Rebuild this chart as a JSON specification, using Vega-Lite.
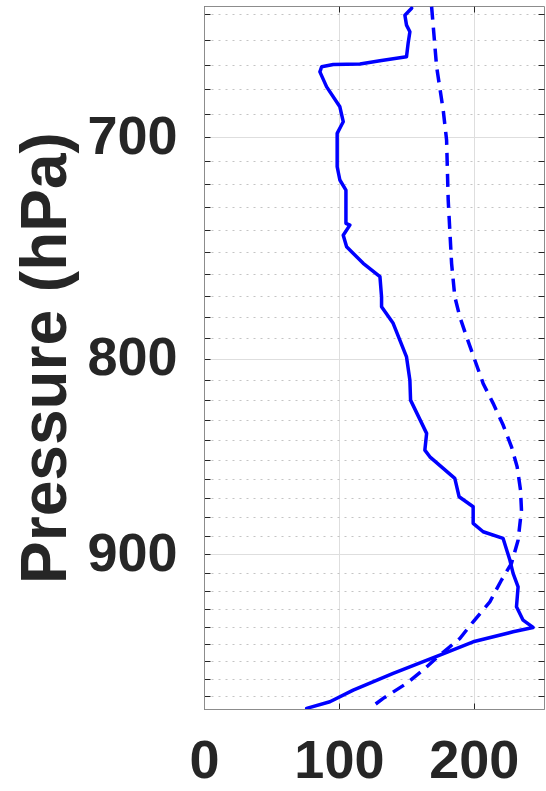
{
  "$schema": "https://vega.github.io/schema/vega-lite/v6.json",
  "width": 340,
  "height": 703,
  "autosize": "none",
  "padding": {"left": 204, "top": 6, "right": 2, "bottom": 82},
  "background": "white",
  "config": {
    "font": "Liberation Sans",
    "view": {"stroke": "#8c8c8c", "strokeWidth": 1}
  },
  "datasets": {
    "profiles": [
      {"profile": "observed", "p": 647.6, "value": 153.9},
      {"profile": "observed", "p": 650.3, "value": 148.9},
      {"profile": "observed", "p": 654.2, "value": 150.1},
      {"profile": "observed", "p": 656.8, "value": 152.6},
      {"profile": "observed", "p": 661.4, "value": 151.3},
      {"profile": "observed", "p": 666.8, "value": 150.1},
      {"profile": "observed", "p": 668.4, "value": 130.4},
      {"profile": "observed", "p": 669.7, "value": 115.6},
      {"profile": "observed", "p": 669.9, "value": 95.8},
      {"profile": "observed", "p": 670.8, "value": 87.2},
      {"profile": "observed", "p": 672.9, "value": 85.9},
      {"profile": "observed", "p": 679.0, "value": 90.9},
      {"profile": "observed", "p": 687.2, "value": 100.7},
      {"profile": "observed", "p": 693.4, "value": 103.2},
      {"profile": "observed", "p": 698.3, "value": 98.7},
      {"profile": "observed", "p": 712.5, "value": 98.7},
      {"profile": "observed", "p": 718.2, "value": 100.7},
      {"profile": "observed", "p": 722.6, "value": 105.2},
      {"profile": "observed", "p": 737.2, "value": 105.2},
      {"profile": "observed", "p": 738.0, "value": 108.1},
      {"profile": "observed", "p": 742.5, "value": 103.2},
      {"profile": "observed", "p": 747.7, "value": 105.7},
      {"profile": "observed", "p": 755.2, "value": 118.0},
      {"profile": "observed", "p": 761.3, "value": 130.4},
      {"profile": "observed", "p": 770.6, "value": 131.6},
      {"profile": "observed", "p": 775.2, "value": 131.6},
      {"profile": "observed", "p": 783.0, "value": 140.2},
      {"profile": "observed", "p": 799.0, "value": 150.1},
      {"profile": "observed", "p": 810.3, "value": 152.6},
      {"profile": "observed", "p": 820.1, "value": 153.1},
      {"profile": "observed", "p": 836.7, "value": 165.0},
      {"profile": "observed", "p": 845.2, "value": 163.7},
      {"profile": "observed", "p": 848.6, "value": 167.4},
      {"profile": "observed", "p": 859.7, "value": 185.9},
      {"profile": "observed", "p": 869.3, "value": 189.1},
      {"profile": "observed", "p": 874.5, "value": 199.5},
      {"profile": "observed", "p": 883.3, "value": 199.5},
      {"profile": "observed", "p": 887.8, "value": 206.9},
      {"profile": "observed", "p": 891.4, "value": 221.7},
      {"profile": "observed", "p": 903.1, "value": 226.7},
      {"profile": "observed", "p": 910.4, "value": 229.1},
      {"profile": "observed", "p": 917.8, "value": 232.8},
      {"profile": "observed", "p": 928.9, "value": 231.6},
      {"profile": "observed", "p": 936.4, "value": 236.5},
      {"profile": "observed", "p": 940.5, "value": 243.9},
      {"profile": "observed", "p": 943.0, "value": 229.1},
      {"profile": "observed", "p": 948.7, "value": 199.5},
      {"profile": "observed", "p": 956.3, "value": 174.8},
      {"profile": "observed", "p": 966.9, "value": 140.2},
      {"profile": "observed", "p": 976.7, "value": 110.6},
      {"profile": "observed", "p": 983.6, "value": 93.3},
      {"profile": "observed", "p": 987.5, "value": 76.1},
      {"profile": "modelled", "p": 647.0, "value": 168.7},
      {"profile": "modelled", "p": 670.8, "value": 172.4},
      {"profile": "modelled", "p": 688.6, "value": 177.3},
      {"profile": "modelled", "p": 701.1, "value": 179.8},
      {"profile": "modelled", "p": 727.0, "value": 181.0},
      {"profile": "modelled", "p": 755.2, "value": 183.5},
      {"profile": "modelled", "p": 770.6, "value": 185.9},
      {"profile": "modelled", "p": 779.9, "value": 189.6},
      {"profile": "modelled", "p": 789.4, "value": 194.6},
      {"profile": "modelled", "p": 800.5, "value": 200.7},
      {"profile": "modelled", "p": 811.9, "value": 206.9},
      {"profile": "modelled", "p": 821.7, "value": 214.3},
      {"profile": "modelled", "p": 832.5, "value": 221.7},
      {"profile": "modelled", "p": 843.5, "value": 227.9},
      {"profile": "modelled", "p": 853.7, "value": 232.1},
      {"profile": "modelled", "p": 865.8, "value": 234.6},
      {"profile": "modelled", "p": 876.3, "value": 235.3},
      {"profile": "modelled", "p": 892.3, "value": 232.8},
      {"profile": "modelled", "p": 904.9, "value": 227.9},
      {"profile": "modelled", "p": 914.0, "value": 220.5},
      {"profile": "modelled", "p": 926.1, "value": 211.9},
      {"profile": "modelled", "p": 937.3, "value": 199.5},
      {"profile": "modelled", "p": 946.8, "value": 189.6},
      {"profile": "modelled", "p": 956.3, "value": 174.8},
      {"profile": "modelled", "p": 965.0, "value": 162.4},
      {"profile": "modelled", "p": 972.8, "value": 150.1},
      {"profile": "modelled", "p": 981.6, "value": 132.8},
      {"profile": "modelled", "p": 987.5, "value": 123.0}
    ]
  },
  "data": {"name": "profiles"},
  "layer": [
    {
      "transform": [{"filter": "datum.profile === 'observed'"}],
      "mark": {"type": "line", "color": "#0000ff", "strokeWidth": 3.5, "strokeJoin": "round", "strokeCap": "round", "clip": true},
      "encoding": {
        "x": {
          "field": "value", "type": "quantitative",
          "scale": {"domain": [0, 252], "nice": false, "zero": false},
          "axis": {
            "orient": "bottom", "title": null, "values": [0, 100, 200],
            "labelFontSize": 54, "labelFontWeight": "bold", "labelColor": "#262626",
            "labelPadding": 31, "labelFlush": false, "labelOverlap": false,
            "tickSize": -6, "tickColor": "#262626", "domainColor": "#8c8c8c",
            "grid": true, "gridColor": "#dedede", "gridWidth": 1
          }
        },
        "y": {
          "field": "p", "type": "quantitative",
          "scale": {"type": "log", "domain": [646.7, 987.9], "reverse": true, "nice": false},
          "axis": {
            "orient": "left", "title": "Pressure (hPa)",
            "values": [650, 660, 670, 680, 690, 700, 710, 720, 730, 740, 750, 760, 770, 780, 790, 800, 810, 820, 830, 840, 850, 860, 870, 880, 890, 900, 910, 920, 930, 940, 950, 960, 970, 980],
            "labelExpr": "datum.value % 100 === 0 ? format(datum.value, 'd') : ''",
            "labelFontSize": 54, "labelFontWeight": "bold", "labelColor": "#262626",
            "labelPadding": 33, "labelOverlap": false, "labelFlush": false,
            "tickSize": -6, "tickColor": "#262626", "domainColor": "#8c8c8c",
            "grid": true,
            "gridColor": {"condition": {"test": "datum.value % 100 === 0", "value": "#dedede"}, "value": "#c4c4c4"},
            "gridDash": {"condition": {"test": "datum.value % 100 === 0", "value": []}, "value": [2, 5]},
            "titleFontSize": 64, "titleFontWeight": "bold", "titleColor": "#262626",
            "titlePadding": 8
          }
        },
        "order": {"field": "p", "type": "quantitative"}
      }
    },
    {
      "transform": [{"filter": "datum.profile === 'modelled'"}],
      "mark": {"type": "line", "color": "#0000ff", "strokeWidth": 3.5, "strokeDash": [13, 8], "clip": true},
      "encoding": {
        "x": {
          "field": "value", "type": "quantitative",
          "axis": {
            "orient": "top", "title": null, "values": [0, 100, 200],
            "labels": false, "grid": false, "domain": false,
            "tickSize": -6, "tickColor": "#262626"
          }
        },
        "y": {
          "field": "p", "type": "quantitative",
          "axis": {
            "orient": "right", "title": null,
            "values": [650, 660, 670, 680, 690, 700, 710, 720, 730, 740, 750, 760, 770, 780, 790, 800, 810, 820, 830, 840, 850, 860, 870, 880, 890, 900, 910, 920, 930, 940, 950, 960, 970, 980],
            "labels": false, "grid": false, "domain": false,
            "tickSize": -6, "tickColor": "#262626"
          }
        },
        "order": {"field": "p", "type": "quantitative"}
      }
    }
  ],
  "resolve": {"axis": {"x": "independent", "y": "independent"}}
}
